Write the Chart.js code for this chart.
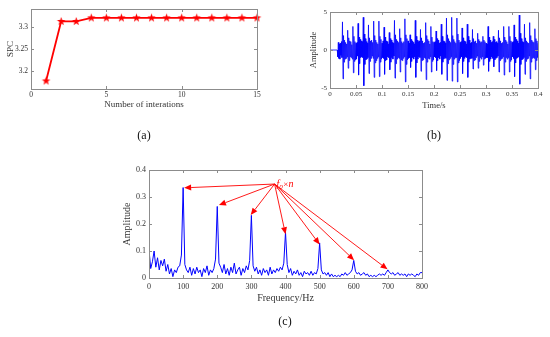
<!DOCTYPE html>
<html>
<head>
<meta charset="utf-8">
<script src="https://cdn.jsdelivr.net/npm/chart.js@4.4.1/dist/chart.umd.min.js"></script>
<style>
  body { margin: 0; background: #fff; width: 550px; height: 337px; position: relative; overflow: hidden; }
  canvas { position: absolute; }
  .tag { position: absolute; width: 40px; margin-left: -20px; text-align: center; font: 12px "Liberation Serif", serif; line-height: 14px; color: #111; will-change: transform; -webkit-font-smoothing: antialiased; }
</style>
</head>
<body>
<canvas id="chart-a" width="275" height="115" style="left:0;top:0"></canvas>
<canvas id="chart-b" width="275" height="115" style="left:275px;top:0"></canvas>
<canvas id="chart-c" width="340" height="150" style="left:100px;top:160px"></canvas>
<div class="tag" style="left:144px;top:128px">(a)</div>
<div class="tag" style="left:434px;top:128px">(b)</div>
<div class="tag" style="left:285px;top:314px">(c)</div>
<script>
// (a) SPC vs. number of iterations
const aIterations = [1, 2, 3, 4, 5, 6, 7, 8, 9, 10, 11, 12, 13, 14, 15];
const aSpc = [3.178, 3.312, 3.312, 3.320, 3.320, 3.320, 3.320, 3.320, 3.320, 3.320, 3.320, 3.320, 3.320, 3.320, 3.320];
const aXTicks = [0, 5, 10, 15];
const aXTickLabels = ["0", "5", "10", "15"];
const aYTicks = [3.2, 3.25, 3.3];
const aYTickLabels = ["3.2", "3.25", "3.3"];

// (b) time signal, one sample every 1 ms from 0.014 s (flat at 0 before that);
// one row per 10 ms impulse period
const bSampleStart = 0.014;
const bSampleStep = 0.001;
const bSignal = [
  0, -0.9, 1.0, -1.1, 0.8, -1.2, 0.9, -0.7, 1.1, -1.0,
  3.7, -3.8, 1.9, -1.6, 1.3, -1.2, 1.0, -1.1, 0.8, -0.9,
  2.6, -2.4, 1.6, -1.4, 1.2, -0.9, 1.1, -1.0, 0.7, -1.2,
  3.1, -3.0, 1.8, -1.5, 1.1, -1.3, 0.9, -1.2, 1.0, -0.8,
  3.5, -3.3, 1.7, -1.8, 1.4, -1.0, 1.2, -0.9, 1.1, -1.0,
  4.3, -4.7, 2.1, -1.9, 1.5, -1.3, 1.1, -1.2, 0.9, -1.0,
  3.3, -3.1, 1.6, -1.5, 1.2, -1.1, 1.3, -0.8, 1.0, -1.1,
  3.8, -3.6, 1.9, -1.7, 1.3, -1.4, 1.0, -1.1, 0.8, -0.9,
  3.8, -3.5, 1.8, -1.6, 1.4, -1.2, 0.9, -1.0, 1.2, -1.1,
  3.0, -3.2, 1.7, -1.4, 1.2, -1.3, 1.1, -0.9, 0.8, -1.0,
  2.3, -2.6, 1.5, -1.6, 1.3, -1.0, 1.0, -1.2, 0.9, -0.8,
  3.9, -3.7, 2.0, -1.8, 1.4, -1.2, 1.2, -1.0, 1.0, -1.1,
  2.8, -2.9, 1.6, -1.3, 1.1, -1.4, 0.9, -1.1, 1.1, -0.9,
  4.1, -4.2, 2.0, -1.9, 1.5, -1.3, 1.2, -1.1, 0.9, -1.0,
  2.0, -2.3, 1.4, -1.5, 1.2, -1.0, 1.0, -1.2, 0.8, -0.9,
  3.9, -3.6, 1.8, -1.7, 1.3, -1.2, 1.1, -0.9, 1.2, -1.0,
  2.7, -2.8, 1.6, -1.4, 1.2, -1.3, 0.9, -1.0, 1.0, -1.1,
  3.6, -3.9, 1.9, -1.6, 1.4, -1.1, 1.2, -1.2, 0.8, -0.9,
  3.1, -2.9, 1.7, -1.5, 1.1, -1.3, 1.0, -0.9, 1.1, -1.0,
  2.5, -2.7, 1.5, -1.4, 1.3, -1.0, 0.9, -1.2, 1.0, -0.8,
  3.4, -3.2, 1.8, -1.6, 1.2, -1.2, 1.1, -1.0, 0.9, -1.1,
  4.2, -4.0, 2.0, -1.8, 1.5, -1.3, 1.2, -1.1, 1.0, -0.9,
  4.3, -4.1, 1.9, -1.9, 1.4, -1.2, 1.1, -1.0, 0.9, -1.0,
  4.2, -4.2, 2.1, -1.7, 1.3, -1.4, 1.0, -1.1, 1.1, -0.9,
  2.9, -3.1, 1.6, -1.5, 1.2, -1.1, 1.1, -0.9, 0.8, -1.0,
  3.4, -3.6, 1.8, -1.6, 1.3, -1.2, 0.9, -1.1, 1.0, -1.1,
  2.7, -2.5, 1.5, -1.4, 1.1, -1.3, 1.2, -1.0, 0.9, -0.8,
  2.2, -2.4, 1.4, -1.5, 1.2, -1.0, 1.0, -1.2, 1.1, -0.9,
  1.8, -2.0, 1.3, -1.2, 1.1, -1.1, 0.9, -1.0, 0.8, -1.0,
  3.1, -2.8, 1.7, -1.5, 1.3, -1.2, 1.0, -0.9, 1.1, -1.1,
  1.8, -2.2, 1.4, -1.3, 1.0, -1.1, 1.1, -1.0, 0.9, -0.8,
  2.6, -2.9, 1.6, -1.4, 1.2, -1.2, 0.9, -1.1, 1.0, -0.9,
  3.1, -3.3, 1.7, -1.6, 1.3, -1.0, 1.1, -1.2, 0.8, -1.0,
  3.1, -2.9, 1.8, -1.5, 1.2, -1.3, 1.0, -0.9, 1.1, -1.1,
  3.3, -3.5, 1.7, -1.7, 1.4, -1.1, 1.2, -1.0, 0.9, -0.9,
  4.6, -4.5, 2.2, -1.9, 1.5, -1.3, 1.1, -1.2, 1.0, -1.0,
  3.4, -3.2, 1.6, -1.5, 1.2, -1.2, 1.0, -1.1, 0.9, -0.8,
  3.6, -3.8, 1.9, -1.6, 1.3, -1.1, 1.1, -1.0, 1.0, -1.1,
  2.8, -2.6, 1.5, -1.4, 1.2, -1.0, 0.9
];
const bXTicks = [0, 0.05, 0.1, 0.15, 0.2, 0.25, 0.3, 0.35, 0.4];
const bXTickLabels = ["0", "0.05", "0.1", "0.15", "0.2", "0.25", "0.3", "0.35", "0.4"];
const bYTicks = [-5, 0, 5];
const bYTickLabels = ["-5", "0", "5"];

// (c) envelope spectrum, one bin every 5 Hz from 0 to 800 Hz
const cFreqStep = 5;
const cSpectrum = [
  0.105, 0.035, 0.06, 0.1, 0.04, 0.075, 0.03, 0.065, 0.045, 0.07, 0.025, 0.05, 0.015, 0.035, 0.005, 0.03, 0.02, 0.04, 0.045, 0.085,
  0.335, 0.05, 0.03, 0.02, 0.04, 0.01, 0.035, 0.015, 0.04, 0.02, 0.03, 0.005, 0.035, 0.02, 0.045, 0.01, 0.03, 0.02, 0.035, 0.07,
  0.265, 0.055, 0.04, 0.02, 0.05, 0.015, 0.035, 0.01, 0.04, 0.02, 0.055, 0.015, 0.03, 0.04, 0.01, 0.035, 0.02, 0.045, 0.03, 0.065,
  0.232, 0.045, 0.025, 0.04, 0.015, 0.03, 0.01, 0.035, 0.02, 0.03, 0.01, 0.04, 0.015, 0.03, 0.02, 0.035, 0.025, 0.04, 0.03, 0.055,
  0.17, 0.05, 0.02, 0.035, 0.01, 0.025, 0.015, 0.03, 0.01, 0.02, 0.005, 0.025, 0.015, 0.02, 0.01, 0.025, 0.01, 0.02, 0.015, 0.035,
  0.13, 0.03, 0.015, 0.02, 0.01, 0.02, 0.005, 0.015, 0.005, 0.01, 0.005, 0.01, 0.005, 0.015, 0.01, 0.02, 0.01, 0.015, 0.02, 0.03,
  0.065, 0.025, 0.015, 0.02, 0.01, 0.015, 0.02, 0.01, 0.015, 0.005, 0.01, 0.005, 0.01, 0.005, 0.01, 0.015, 0.01, 0.015, 0.01, 0.02,
  0.03, 0.02, 0.015, 0.02, 0.01, 0.015, 0.02, 0.01, 0.015, 0.01, 0.015, 0.005, 0.015, 0.01, 0.015, 0.01, 0.005, 0.015, 0.01, 0.02,
  0.02
];
const cXTicks = [0, 100, 200, 300, 400, 500, 600, 700, 800];
const cXTickLabels = ["0", "100", "200", "300", "400", "500", "600", "700", "800"];
const cYTicks = [0, 0.1, 0.2, 0.3, 0.4];
const cYTickLabels = ["0", "0.1", "0.2", "0.3", "0.4"];
// harmonic arrows: all start at the label, end on each f0×n peak
const cArrowTail = [368, 0.348];
const cArrowHeads = [[103, 0.334], [205, 0.27], [298, 0.233], [400, 0.162], [500, 0.124], [601, 0.066], [699, 0.032]];

const SERIF = '"Liberation Serif", "Times New Roman", serif';
const INK = "#333";
const FRAME = "#8c8c8c";
const RED = "#ff0000";
const BLUE = "#0000ff";

// box round the plot area with short inward ticks on all four sides
const matlabBox = {
  id: "matlabBox",
  afterDatasetsDraw(chart) {
    const { ctx, chartArea: a, scales: { x, y } } = chart;
    const t = 3;
    ctx.save();
    ctx.strokeStyle = FRAME;
    ctx.lineWidth = 1;
    ctx.beginPath();
    for (const tk of x.ticks) {
      const px = Math.round(x.getPixelForValue(tk.value)) + 0.5;
      ctx.moveTo(px, a.bottom); ctx.lineTo(px, a.bottom - t);
      ctx.moveTo(px, a.top); ctx.lineTo(px, a.top + t);
    }
    for (const tk of y.ticks) {
      const py = Math.round(y.getPixelForValue(tk.value)) + 0.5;
      ctx.moveTo(a.left, py); ctx.lineTo(a.left + t, py);
      ctx.moveTo(a.right, py); ctx.lineTo(a.right - t, py);
    }
    ctx.stroke();
    ctx.strokeRect(Math.round(a.left) + 0.5, Math.round(a.top) + 0.5, Math.round(a.right - a.left), Math.round(a.bottom - a.top));
    ctx.restore();
  },
};

const harmonicArrows = {
  id: "harmonicArrows",
  afterDatasetsDraw(chart) {
    const { ctx, scales: { x, y } } = chart;
    const x0 = x.getPixelForValue(cArrowTail[0]);
    const y0 = y.getPixelForValue(cArrowTail[1]);
    ctx.save();
    ctx.strokeStyle = RED;
    ctx.fillStyle = RED;
    ctx.lineWidth = 0.9;
    for (const [hz, amp] of cArrowHeads) {
      const x1 = x.getPixelForValue(hz);
      const y1 = y.getPixelForValue(amp);
      const ang = Math.atan2(y1 - y0, x1 - x0);
      const len = 7, half = 3;
      const bx = x1 - len * Math.cos(ang), by = y1 - len * Math.sin(ang);
      ctx.beginPath();
      ctx.moveTo(x0, y0);
      ctx.lineTo(bx, by);
      ctx.stroke();
      ctx.beginPath();
      ctx.moveTo(x1, y1);
      ctx.lineTo(bx + half * Math.sin(ang), by - half * Math.cos(ang));
      ctx.lineTo(bx - half * Math.sin(ang), by + half * Math.cos(ang));
      ctx.closePath();
      ctx.fill();
    }
    // f0×n label
    let tx = x0 + 2;
    const ty = y0 + 3;
    ctx.textBaseline = "alphabetic";
    ctx.font = `italic 10px ${SERIF}`;
    ctx.fillText("f", tx, ty); tx += ctx.measureText("f").width;
    ctx.font = `italic 7px ${SERIF}`;
    ctx.fillText("0", tx, ty + 2); tx += ctx.measureText("0").width + 0.5;
    ctx.font = `9px ${SERIF}`;
    ctx.fillText("×", tx, ty); tx += ctx.measureText("×").width;
    ctx.font = `italic 10px ${SERIF}`;
    ctx.fillText("n", tx, ty);
    ctx.restore();
  },
};

function axis({ min, max, ticks, labels, size, tickFont, tickPad, title, titleFont, titlePad }) {
  return {
    type: "linear",
    min, max,
    bounds: "data",
    grid: { display: false, drawTicks: false },
    border: { display: false },
    afterBuildTicks: s => { s.ticks = ticks.map(v => ({ value: v })); },
    afterFit: s => { if (s.isHorizontal()) s.height = size; else s.width = size; },
    ticks: {
      autoSkip: false, maxRotation: 0, padding: tickPad, color: INK,
      font: { family: SERIF, size: tickFont },
      callback: (v, i) => labels[i],
    },
    title: { display: true, text: title, color: INK, font: { family: SERIF, size: titleFont }, padding: titlePad },
  };
}

function baseOptions(padding, scales) {
  return {
    responsive: false,
    animation: false,
    layout: { padding },
    plugins: { legend: { display: false }, tooltip: { enabled: false } },
    elements: { line: { tension: 0 } },
    scales,
  };
}

function starMarker(r, color) {
  const c = document.createElement("canvas");
  c.width = c.height = 2 * r + 2;
  const g = c.getContext("2d");
  g.fillStyle = color;
  g.beginPath();
  for (let i = 0; i < 10; i++) {
    const ang = -Math.PI / 2 + i * Math.PI / 5;
    const rr = i % 2 ? r * 0.4 : r;
    g.lineTo(r + 1 + rr * Math.cos(ang), r + 1 + rr * Math.sin(ang));
  }
  g.closePath();
  g.fill();
  return c;
}

// (a)
new Chart(document.getElementById("chart-a"), {
  type: "line",
  data: {
    datasets: [{
      data: aIterations.map((it, i) => ({ x: it, y: aSpc[i] })),
      borderColor: RED, borderWidth: 1.8,
      pointStyle: starMarker(4.5, RED), pointRadius: 5,
      clip: false,
    }],
  },
  options: baseOptions({ left: 0, top: 9, right: 18, bottom: 0 }, {
    x: axis({ min: 0, max: 15, ticks: aXTicks, labels: aXTickLabels, size: 26, tickFont: 7.5, tickPad: 2,
      title: "Number of interations", titleFont: 9, titlePad: { top: 0, bottom: 5 } }),
    y: axis({ min: 3.16, max: 3.34, ticks: aYTicks, labels: aYTickLabels, size: 31, tickFont: 7.5, tickPad: 3,
      title: "SPC", titleFont: 9, titlePad: { top: 5, bottom: 0 } }),
  }),
  plugins: [matlabBox],
});

// (b)
new Chart(document.getElementById("chart-b"), {
  type: "line",
  data: {
    datasets: [{
      data: [{ x: 0, y: 0 }].concat(bSignal.map((v, i) => ({ x: bSampleStart + i * bSampleStep, y: v }))),
      borderColor: BLUE, borderWidth: 0.8, pointRadius: 0,
    }],
  },
  options: baseOptions({ left: 30, top: 12, right: 12, bottom: 0 }, {
    x: axis({ min: 0, max: 0.4, ticks: bXTicks, labels: bXTickLabels, size: 27, tickFont: 7, tickPad: 2,
      title: "Time/s", titleFont: 8.5, titlePad: { top: 0, bottom: 4 } }),
    y: axis({ min: -5, max: 5, ticks: bYTicks, labels: bYTickLabels, size: 25, tickFont: 7, tickPad: 3,
      title: "Amplitude", titleFont: 8.5, titlePad: { top: 4, bottom: 0 } }),
  }),
  plugins: [matlabBox],
});

// (c)
new Chart(document.getElementById("chart-c"), {
  type: "line",
  data: {
    datasets: [{
      data: cSpectrum.map((v, i) => ({ x: i * cFreqStep, y: v })),
      borderColor: BLUE, borderWidth: 1, pointRadius: 0,
    }],
  },
  options: baseOptions({ left: 20, top: 10, right: 18, bottom: 0 }, {
    x: axis({ min: 0, max: 800, ticks: cXTicks, labels: cXTickLabels, size: 32, tickFont: 8, tickPad: 4,
      title: "Frequency/Hz", titleFont: 10, titlePad: { top: 0, bottom: 6 } }),
    y: axis({ min: 0, max: 0.4, ticks: cYTicks, labels: cYTickLabels, size: 29, tickFont: 8, tickPad: 3,
      title: "Amplitude", titleFont: 10, titlePad: { top: 1, bottom: 0 } }),
  }),
  plugins: [matlabBox, harmonicArrows],
});
</script>
</body>
</html>
